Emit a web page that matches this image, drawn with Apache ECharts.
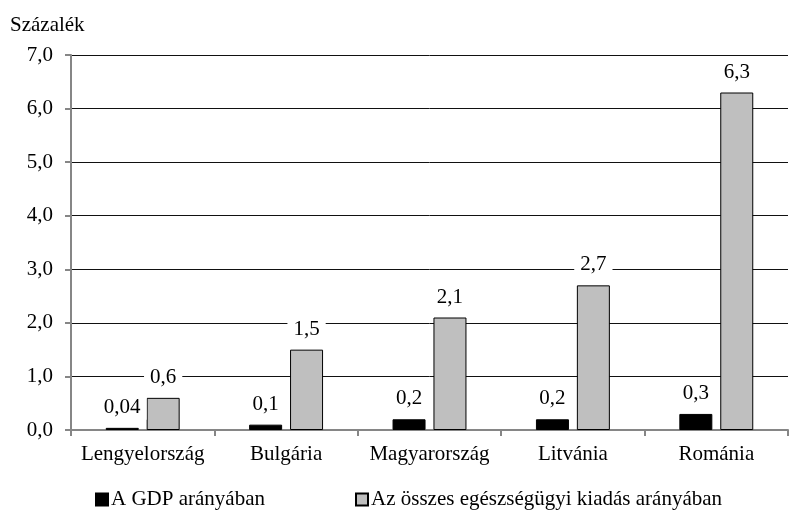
<!DOCTYPE html>
<html>
<head>
<meta charset="utf-8">
<script src="https://cdn.jsdelivr.net/npm/echarts@6/dist/echarts.min.js"></script>
<style>
  html, body { margin: 0; padding: 0; background: #fff; }
  #chart { width: 789px; height: 510px; }
</style>
</head>
<body>
<div id="chart"></div>
<script>
// Countries on the category axis
const countries = ['Lengyelország', 'Bulgária', 'Magyarország', 'Litvánia', 'Románia'];
// Share of GDP (%)
const gdpShare = [0.04, 0.1, 0.2, 0.2, 0.3];
// Share of total health expenditure (%)
const healthShare = [0.6, 1.5, 2.1, 2.7, 6.3];
// Series names
const seriesNames = ['A GDP arányában', 'Az összes egészségügyi kiadás arányában'];
const yTitle = 'Százalék';

const FONT = '"Liberation Serif", "Times New Roman", serif';
const FS = 21;
const fmtComma = v => String(v).replace('.', ',');

const labelStyle = {
  show: true,
  position: 'top',
  distance: 8,
  fontFamily: FONT,
  fontSize: FS,
  color: '#000',
  backgroundColor: '#fff',
  padding: [2, 6],
  formatter: p => fmtComma(p.value)
};

const legendBase = {
  top: 484,
  itemWidth: 12, itemHeight: 12, itemGap: 0,
  icon: 'rect',
  textStyle: { fontFamily: FONT, fontSize: FS, color: '#000', padding: [0, 0, 0, -2] }
};

const chart = echarts.init(document.getElementById('chart'), null, { renderer: 'canvas' });
chart.setOption({
  animation: false,
  backgroundColor: '#fff',
  textStyle: { fontFamily: FONT },
  title: {
    text: yTitle,
    left: 5,
    top: 10,
    textStyle: { fontFamily: FONT, fontSize: FS, fontWeight: 'normal', color: '#000' }
  },
  legend: [
    Object.assign({ data: [seriesNames[0]], left: 90 }, legendBase),
    Object.assign({ data: [seriesNames[1]], left: 350 }, legendBase)
  ],
  grid: { left: 71, right: 1, top: 55, bottom: 80 },
  xAxis: {
    type: 'category',
    data: countries,
    axisLine: { lineStyle: { color: '#868686', width: 2 } },
    axisTick: { show: true, alignWithLabel: false, length: 6, lineStyle: { color: '#868686', width: 2 } },
    axisLabel: { interval: 0, margin: 14, fontFamily: FONT, fontSize: FS, color: '#000' }
  },
  yAxis: {
    type: 'value',
    min: 0, max: 7, interval: 1,
    axisLine: { show: true, lineStyle: { color: '#868686', width: 2 } },
    axisTick: { show: true, length: 6, lineStyle: { color: '#868686', width: 2 } },
    axisLabel: { margin: 18, fontFamily: FONT, fontSize: FS, color: '#000', formatter: v => v.toFixed(1).replace('.', ',') },
    splitLine: { show: true, lineStyle: { color: '#111', width: 1 } }
  },
  series: [
    {
      name: seriesNames[0],
      type: 'bar',
      data: gdpShare,
      barWidth: 33,
      barGap: '24%',
      itemStyle: { color: '#000', borderColor: '#000', borderWidth: 1 },
      label: labelStyle,
      z: 3
    },
    {
      name: seriesNames[1],
      type: 'bar',
      data: healthShare,
      barWidth: 33,
      barGap: '24%',
      itemStyle: { color: '#bfbfbf', borderColor: '#000', borderWidth: 1 },
      label: labelStyle,
      z: 3
    }
  ]
});
</script>
</body>
</html>
